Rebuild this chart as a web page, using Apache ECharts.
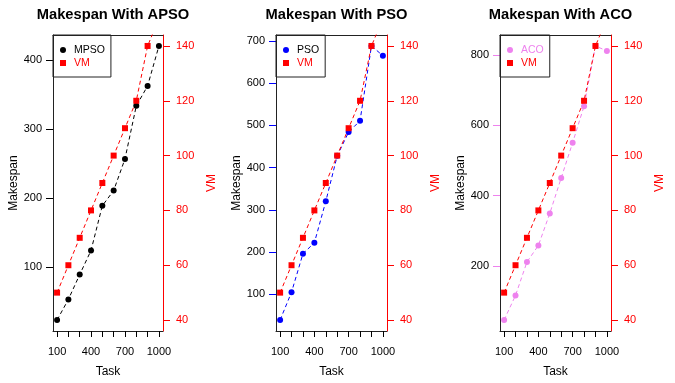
<!DOCTYPE html>
<html>
<head>
<meta charset="utf-8">
<script src="https://cdn.jsdelivr.net/npm/echarts@6/dist/echarts.min.js"></script>
<style>
  html, body { margin: 0; padding: 0; background: #fff; }
  #main { width: 675px; height: 383px; }
</style>
</head>
<body>
<div id="main"></div>
<script>
// data
const tasks = [100, 200, 300, 400, 500, 600, 700, 800, 900, 1000];
const apso = [23, 53, 89, 124, 189, 211, 257, 334, 363, 421];
const pso = [39, 105, 196, 222, 320, 428, 484, 511, 688, 665];
const aco = [46, 116, 211, 258, 349, 450, 550, 654, 825, 811];
const vm = [50, 60, 70, 80, 90, 100, 110, 120, 140, 150];

const taskTicks = [100, 200, 300, 400, 500, 600, 700, 800, 900, 1000];
const taskLabels = [100, 400, 700, 1000];
const apsoTicks = [100, 200, 300, 400];
const psoTicks = [100, 200, 300, 400, 500, 600, 700];
const acoTicks = [200, 400, 600, 800];
const vmTicks = [40, 60, 80, 100, 120, 140];

const FONT = "'Liberation Sans', Arial, sans-serif";
const RED = "#ff0000";
const BOX = "#222";

// R style axis range: 4% padding on each side
function pad(lo, hi) {
  const d = (hi - lo) * 0.04;
  return [lo - d, hi + d];
}
const plain = (v) => String(v);

const panels = [
  { title: "Makespan With APSO", name: "MPSO", values: apso, ticks: apsoTicks, color: "#000000", text: "#000000", left: 53, width: 110 },
  { title: "Makespan With PSO", name: "PSO", values: pso, ticks: psoTicks, color: "#0000ff", text: "#000000", left: 276, width: 111 },
  { title: "Makespan With ACO", name: "ACO", values: aco, ticks: acoTicks, color: "#ee82ee", text: "#ee82ee", left: 500, width: 111 },
];

const TOP = 35, HEIGHT = 298;
const xr = pad(Math.min(...tasks), Math.max(...tasks));
const vr = pad(vmTicks[0], vmTicks[vmTicks.length - 1]);

const title = [], grid = [], xAxis = [], yAxis = [], legend = [], series = [];

panels.forEach((p, i) => {
  const yr = pad(Math.min(...p.values), Math.max(...p.values));

  title.push({
    text: p.title,
    left: p.left + p.width / 2,
    top: 2,
    textAlign: "center",
    textStyle: { fontSize: 14.7, fontWeight: "bold", color: "#000", fontFamily: FONT },
  });

  grid.push({ left: p.left, top: TOP, width: p.width, height: HEIGHT, show: false });

  xAxis.push({
    gridIndex: i, type: "value", position: "bottom", min: xr[0], max: xr[1],
    axisLine: { show: true, lineStyle: { color: BOX, width: 1 } },
    axisTick: { show: true, customValues: taskTicks, length: 6, lineStyle: { color: "#000" } },
    axisLabel: { customValues: taskLabels, formatter: plain, margin: 15, fontSize: 11, color: "#000", fontFamily: FONT },
    splitLine: { show: false },
    name: "Task", nameLocation: "middle", nameGap: 35,
    nameTextStyle: { fontSize: 12, color: "#000", fontFamily: FONT },
  });
  // top edge of the box
  xAxis.push({
    gridIndex: i, type: "value", position: "top", min: xr[0], max: xr[1],
    axisLine: { show: true, lineStyle: { color: BOX, width: 1 } },
    axisTick: { show: false }, axisLabel: { show: false }, splitLine: { show: false },
  });

  yAxis.push({
    gridIndex: i, type: "value", position: "left", min: yr[0], max: yr[1],
    axisLine: { show: true, lineStyle: { color: BOX, width: 1 } },
    axisTick: { show: true, customValues: p.ticks, length: 7, lineStyle: { color: p.color } },
    axisLabel: { customValues: p.ticks, formatter: plain, margin: 11, fontSize: 11, color: "#000", fontFamily: FONT },
    splitLine: { show: false },
    name: "Makespan", nameLocation: "middle", nameGap: 26, nameRotate: 90,
    nameTextStyle: { fontSize: 12, color: "#000", fontFamily: FONT },
  });

  yAxis.push({
    gridIndex: i, type: "value", position: "right", min: vr[0], max: vr[1],
    axisLine: { show: true, lineStyle: { color: RED, width: 1 } },
    axisTick: { show: true, customValues: vmTicks, length: 7, lineStyle: { color: RED } },
    axisLabel: { customValues: vmTicks, formatter: plain, margin: 13, fontSize: 11, color: RED, fontFamily: FONT },
    splitLine: { show: false },
    name: "VM", nameLocation: "middle", nameGap: 43, nameRotate: 90,
    nameTextStyle: { fontSize: 12, color: RED, fontFamily: FONT },
  });

  legend.push({
    left: p.left, top: TOP, orient: "vertical",
    padding: [9, 6, 8, 7], itemGap: 1, itemWidth: 6, itemHeight: 6,
    selectedMode: false,
    borderColor: BOX, borderWidth: 1, borderRadius: 0,
    textStyle: { fontSize: 10.5, lineHeight: 12, fontFamily: FONT, padding: [0, 0, 0, 3] },
    data: [
      { name: p.name, icon: "circle", textStyle: { color: p.text } },
      { name: "VM", icon: "rect", textStyle: { color: RED } },
    ],
  });

  series.push({
    type: "line", name: p.name, xAxisIndex: 2 * i, yAxisIndex: 2 * i,
    data: tasks.map((t, j) => [t, p.values[j]]),
    symbol: "circle", symbolSize: 6,
    itemStyle: { color: p.color },
    lineStyle: { color: p.color, width: 1, type: [4, 3] },
    clip: true, silent: true,
  });

  series.push({
    type: "line", name: "VM", xAxisIndex: 2 * i, yAxisIndex: 2 * i + 1,
    data: tasks.map((t, j) => [t, vm[j]]),
    symbol: "rect", symbolSize: 6,
    itemStyle: { color: RED },
    lineStyle: { color: RED, width: 1, type: [4, 3] },
    clip: true, silent: true,
  });
});

const chart = echarts.init(document.getElementById("main"));
chart.setOption({
  animation: false,
  textStyle: { fontFamily: FONT },
  title, grid, xAxis, yAxis, legend, series,
});
</script>
</body>
</html>
